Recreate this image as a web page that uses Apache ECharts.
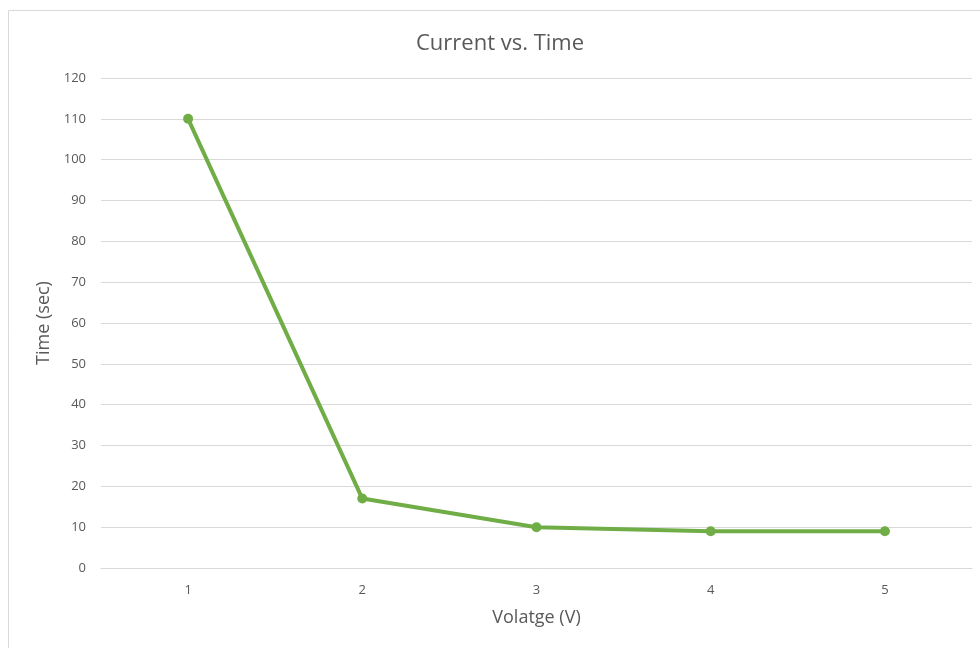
<!DOCTYPE html>
<html>
<head>
<meta charset="utf-8">
<script src="https://cdn.jsdelivr.net/npm/echarts@6/dist/echarts.min.js"></script>
<style>
  html, body { margin: 0; padding: 0; background: #fff; }
  #chart { width: 980px; height: 648px; }
</style>
</head>
<body>
<div id="chart"></div>
<script>
// Voltage steps (V) and the measured time (sec) at each step
const voltages = ['1', '2', '3', '4', '5'];
const times = [110, 17, 10, 9, 9];
const yTicks = { min: 0, max: 120, interval: 10 };

const chart = echarts.init(document.getElementById('chart'));
const textColor = '#595959';
const fontFamily = '"Open Sans", "Liberation Sans", sans-serif';

chart.setOption({
  backgroundColor: '#ffffff',
  animation: false,
  graphic: [{
    type: 'rect',
    shape: { x: 8.5, y: 10.5, width: 990, height: 660 },
    style: { fill: 'none', stroke: '#d9d9d9', lineWidth: 1 },
    silent: true
  }],
  title: {
    text: 'Current vs. Time',
    left: 495,
    top: 28,
    textAlign: 'center',
    textStyle: { color: textColor, fontSize: 22, fontWeight: 'normal', fontFamily: fontFamily }
  },
  grid: { left: 101, right: 8, top: 78, bottom: 80 },
  xAxis: {
    type: 'category',
    data: voltages,
    boundaryGap: true,
    name: 'Volatge (V)',
    nameLocation: 'middle',
    nameGap: 41,
    nameTextStyle: { color: textColor, fontSize: 18, fontFamily: fontFamily },
    axisLine: { lineStyle: { color: '#d9d9d9', width: 1 } },
    axisTick: { show: false },
    axisLabel: { color: textColor, fontSize: 13, margin: 16, fontFamily: fontFamily },
    splitLine: { show: false }
  },
  yAxis: {
    type: 'value',
    min: yTicks.min,
    max: yTicks.max,
    interval: yTicks.interval,
    name: 'Time (sec)',
    nameLocation: 'middle',
    nameGap: 46,
    nameRotate: 90,
    nameTextStyle: { color: textColor, fontSize: 18, fontFamily: fontFamily },
    axisLine: { show: false },
    axisTick: { show: false },
    axisLabel: { color: textColor, fontSize: 13, margin: 15, fontFamily: fontFamily },
    splitLine: { lineStyle: { color: '#d9d9d9', width: 1 } }
  },
  series: [{
    type: 'line',
    data: times,
    symbol: 'circle',
    symbolSize: 10,
    lineStyle: { color: '#70ad47', width: 4 },
    itemStyle: { color: '#70ad47' },
    z: 3
  }]
});
</script>
</body>
</html>
